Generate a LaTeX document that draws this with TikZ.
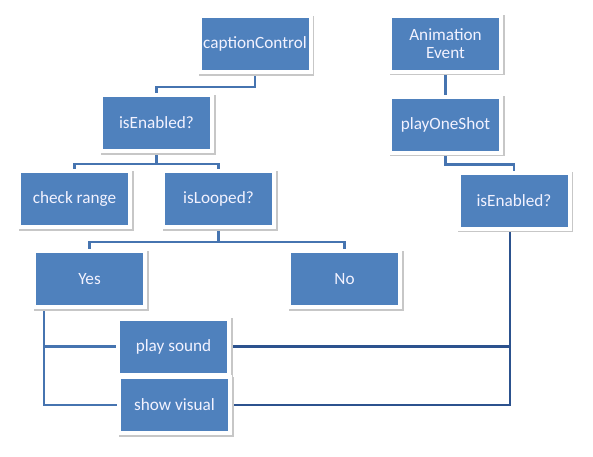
\documentclass[tikz,border=0pt]{standalone}
\usepackage{fontspec}
\setmainfont{Carlito}
\usetikzlibrary{backgrounds}

\definecolor{boxblue}{RGB}{79,129,189}
\definecolor{linkblue}{RGB}{70,116,176}
\definecolor{linknavy}{RGB}{44,82,142}

\begin{document}
\begin{tikzpicture}[
x=1pt, y=-1pt,
box/.style={fill=boxblue, draw=white, line width=4pt, minimum width=111pt, minimum height=56pt,
  inner sep=2pt, align=center, text=white!95!blue, font=\fontsize{17.2}{18}\selectfont,
  preaction={draw=black!22, fill=black!22, line width=4pt, transform canvas={shift={(1.5pt,-1.8pt)}}}},
link/.style={draw=linkblue, line width=2.8pt},
linkdark/.style={draw=linknavy, line width=2.6pt} ]

\useasboundingbox (0,0) rectangle (593,456);

\node[box](captionControl) at (255,44) {captionControl};

\node[box](isEnabledA) at (156.5,123) {isEnabled?};

\node[box](checkRange) at (74.5,199) {check range};

\node[box](isLooped) at (218.5,199) {isLooped?};

\node[box](yes) at (89.5,279) {Yes};

\node[box](no) at (344.5,279) {No};

\node[box](playSound) at (173.5,346.5) {play sound};

\node[box](showVisual) at (174.5,405) {show visual};

\node[box](animEvent) at (445.5,43.5) {Animation\\Event};

\node[box](playOneShot) at (445.5,124.5) {playOneShot};

\node[box](isEnabledB) at (514,200.5) {isEnabled?};

\coordinate (yesDrop) at ([xshift=12pt]yes.south west);
\coordinate (enabledDrop) at ([xshift=-4pt]isEnabledB.south);

\begin{scope}[on background layer]
\draw[link] (captionControl.south) -- ++(0,13) -| (isEnabledA.north);

\draw[link] (isEnabledA.south) -- ++(0,11) -| (checkRange.north);

\draw[link] (isEnabledA.south) -- ++(0,11) -| (isLooped.north);

\draw[link] (isLooped.south) -- ++(0,13) -| (yes.north);

\draw[link] (isLooped.south) -- ++(0,13) -| (no.north);

\draw[link] (yesDrop) |- (showVisual.west);

\draw[link] (playSound.west) -- (playSound.west -| yesDrop);

\draw[link] (animEvent.south) -- (playOneShot.north);

\draw[link] (playOneShot.south) -- ++(0,10) -| (isEnabledB.north);

\draw[linkdark] (enabledDrop) |- (showVisual.east);

\draw[linkdark] (playSound.east) -- (playSound.east -| enabledDrop);
\end{scope}
\end{tikzpicture}
\end{document}
